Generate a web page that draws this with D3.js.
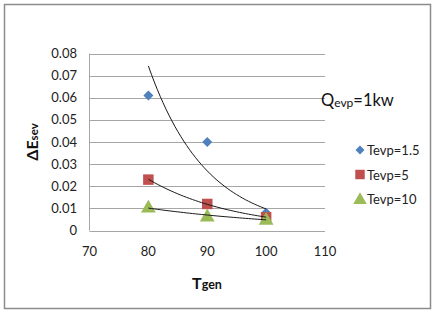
<!DOCTYPE html>
<html><head><meta charset="utf-8">
<script src="https://cdn.jsdelivr.net/npm/d3@7"></script>
<style>body{margin:0;background:#fff;} svg{display:block;font-family:Lato,"Open Sans",sans-serif;}</style>
</head><body>
<script>
const xCats = [80, 90, 100];
const seriesNames = ["Tevp=1.5", "Tevp=5", "Tevp=10"];
const tevp15 = [0.061, 0.040, 0.008];
const tevp5 = [0.023, 0.012, 0.006];
const tevp10 = [0.0105, 0.0065, 0.005];
const xTicks = [70, 80, 90, 100, 110];
const yTicks = [0, 0.01, 0.02, 0.03, 0.04, 0.05, 0.06, 0.07, 0.08];
const colors = ["#4f81bd", "#c0504d", "#9bbb59"];
const symbols = [d3.symbolSquare, d3.symbolSquare, d3.symbolTriangle];
const rot = [45, 0, 0];
const allSeries = [tevp15, tevp5, tevp10];

const W = 434, H = 312;
const svg = d3.select("body").append("svg").attr("width", W).attr("height", H);
svg.append("rect").attr("x", 4.5).attr("y", 4.5).attr("width", 426).attr("height", 304)
  .attr("fill", "#fff").attr("stroke", "#8c8c8c").attr("stroke-width", 1.5);

const x = d3.scaleLinear().domain([70, 110]).range([89.5, 325]);
const y = d3.scaleLinear().domain([0, 0.08]).range([230.5, 53.5]);

// gridlines
svg.append("g").selectAll("line").data(yTicks).join("line")
  .attr("x1", x(70)).attr("x2", x(110))
  .attr("y1", d => Math.round(y(d)) + 0.5).attr("y2", d => Math.round(y(d)) + 0.5)
  .attr("stroke", "#a6a6a6").attr("stroke-width", 1);
svg.append("line").attr("x1", 89.5).attr("x2", 89.5).attr("y1", y(0.08)).attr("y2", y(0))
  .attr("stroke", "#a6a6a6");

// tick labels
svg.append("g").selectAll("text").data(yTicks).join("text")
  .attr("x", 77).attr("y", d => y(d) + 4.5).attr("text-anchor", "end")
  .attr("font-size", 13).attr("fill", "#222")
  .text(d => d === 0 ? "0" : d3.format(".2f")(d));
svg.append("g").selectAll("text").data(xTicks).join("text")
  .attr("x", d => x(d)).attr("y", 256).attr("text-anchor", "middle")
  .attr("font-size", 13).attr("fill", "#222").text(d => d);

// markers
const sizes = [50, 110, 95];
allSeries.forEach((s, i) => {
  svg.append("g").selectAll("path").data(s).join("path")
    .attr("transform", (d, j) => `translate(${x(xCats[j])},${y(d) + (i === 2 ? 1 : 0)}) rotate(${rot[i]})`)
    .attr("d", d3.symbol().type(symbols[i]).size(sizes[i]))
    .attr("fill", colors[i]);
});

// exponential trendlines (least squares on ln y, as Excel)
function expFit(xs, ys) {
  const ly = ys.map(Math.log);
  const n = xs.length, mx = d3.mean(xs), my = d3.mean(ly);
  let num = 0, den = 0;
  for (let i = 0; i < n; i++) { num += (xs[i] - mx) * (ly[i] - my); den += (xs[i] - mx) ** 2; }
  const b = num / den, a = my - b * mx;
  return t => Math.exp(a + b * t);
}
const line = d3.line().x(d => x(d[0])).y(d => y(d[1]));
allSeries.forEach(s => {
  const f = expFit(xCats, s);
  const pts = d3.range(80, 100.01, 0.5).map(t => [t, f(t)]);
  svg.append("path").attr("d", line(pts)).attr("fill", "none")
    .attr("stroke", "#1a1a1a").attr("stroke-width", 1);
});

// legend
const lg = svg.append("g");
const lsizes = [40, 90, 80];
seriesNames.forEach((n, i) => {
  const cy = 150 + i * 24.5;
  lg.append("path").attr("transform", `translate(${360},${cy + (i === 2 ? 1 : 0)}) rotate(${rot[i]})`)
    .attr("d", d3.symbol().type(symbols[i]).size(lsizes[i]))
    .attr("fill", colors[i]);
  lg.append("text").attr("x", 367).attr("y", cy + 5).attr("font-size", 13).attr("fill", "#222").text(n);
});

// annotation Qevp=1kw
const q = svg.append("text").attr("x", 321).attr("y", 106).attr("font-size", 16.5).attr("fill", "#111");
q.append("tspan").text("Q");
q.append("tspan").attr("font-size", 12).attr("dy", 1).text("evp");
q.append("tspan").attr("dy", -1).text("=1kw");

// axis titles
const yt = svg.append("text").attr("transform", "translate(38,142) rotate(-90)")
  .attr("text-anchor", "middle").attr("font-weight", "bold").attr("fill", "#111").attr("font-size", 16);
yt.append("tspan").text("ΔE");
yt.append("tspan").attr("font-size", 11.5).text("sev");

const xt = svg.append("text").attr("x", 207).attr("y", 289).attr("text-anchor", "middle")
  .attr("font-weight", "bold").attr("fill", "#111").attr("font-size", 16);
xt.append("tspan").text("T");
xt.append("tspan").attr("font-size", 12.5).text("gen");
</script>
</body></html>
